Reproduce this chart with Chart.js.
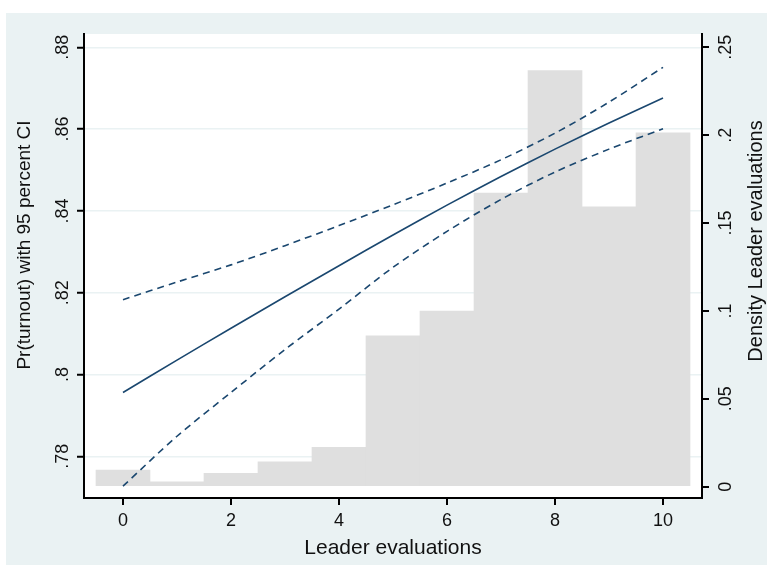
<!DOCTYPE html>
<html>
<head>
<meta charset="utf-8">
<script src="https://cdn.jsdelivr.net/npm/chart.js@4/dist/chart.umd.min.js"></script>
<style>
  html, body { margin: 0; padding: 0; background: #ffffff; }
  canvas { display: block; }
</style>
</head>
<body>
<canvas id="chart" width="767" height="565"></canvas>
<script>
// Leader evaluation scores (x) and histogram density (right axis)
const evalScores = [0, 1, 2, 3, 4, 5, 6, 7, 8, 9, 10];
const density = [0.0095, 0.0028, 0.0076, 0.0142, 0.0224, 0.0859, 0.0999, 0.167, 0.2367, 0.1593, 0.2014];

// Predicted Pr(turnout) and 95% CI (left axis)
const prTurnout = [0.7956, 0.8035, 0.8113, 0.8190, 0.8266, 0.8341, 0.8414, 0.8484, 0.8551, 0.8615, 0.8676];
const ciUpper   = [0.8183, 0.8226, 0.8268, 0.8315, 0.8364, 0.8415, 0.8468, 0.8525, 0.8590, 0.8666, 0.8751];
const ciLower   = [0.7727, 0.7849, 0.7956, 0.8061, 0.8160, 0.8262, 0.8350, 0.8428, 0.8495, 0.8551, 0.8601];

// Axis ticks
const xTicks = [0, 2, 4, 6, 8, 10];
const leftTicks = [0.78, 0.80, 0.82, 0.84, 0.86, 0.88];
const leftTickLabels = ['.78', '.8', '.82', '.84', '.86', '.88'];
const rightTicks = [0, 0.05, 0.10, 0.15, 0.20, 0.25];
const rightTickLabels = ['0', '.05', '.1', '.15', '.2', '.25'];

const NAVY = '#1a476f';
const BG = '#eaf2f3';
const TEXT = '#111111';
const FONT = '"Liberation Sans", Arial, sans-serif';

const points = ys => evalScores.map((x, i) => ({ x: x, y: ys[i] }));

// background panel + white plot region
const backdrop = {
    id: 'backdrop',
    beforeDraw(chart) {
        const { ctx, chartArea: a } = chart;
        ctx.save();
        ctx.fillStyle = '#ffffff';
        ctx.fillRect(0, 0, chart.width, chart.height);
        ctx.fillStyle = BG;
        ctx.fillRect(6, 13, chart.width - 6, chart.height - 13);
        ctx.fillStyle = '#ffffff';
        ctx.fillRect(a.left, a.top, a.right - a.left, a.bottom - a.top);
        ctx.restore();
    }
};

// Stata style labels: rotated y tick labels and axis titles
const labels = {
    id: 'labels',
    afterDraw(chart) {
        const { ctx, scales } = chart;
        const a = chart.chartArea;
        ctx.save();
        ctx.fillStyle = TEXT;
        ctx.textAlign = 'center';
        ctx.textBaseline = 'middle';

        ctx.font = '18px ' + FONT;
        xTicks.forEach(v => ctx.fillText(String(v), scales.x.getPixelForValue(v), 521));

        const rotated = (text, x, y) => {
            ctx.save();
            ctx.translate(x, y);
            ctx.rotate(-Math.PI / 2);
            ctx.fillText(text, 0, 0);
            ctx.restore();
        };
        leftTicks.forEach((v, i) => rotated(leftTickLabels[i], 63, scales.y.getPixelForValue(v)));
        rightTicks.forEach((v, i) => rotated(rightTickLabels[i], 726, scales.y2.getPixelForValue(v)));

        ctx.font = '21px ' + FONT;
        ctx.fillText('Leader evaluations', (a.left + a.right) / 2, 548);
        ctx.font = '19px ' + FONT;
        rotated('Pr(turnout) with 95 percent CI', 25, 245);
        ctx.font = '20px ' + FONT;
        rotated('Density Leader evaluations', 756, 241);
        ctx.restore();
    }
};

new Chart(document.getElementById('chart'), {
    type: 'bar',
    data: {
        datasets: [
            {
                type: 'line',
                data: points(ciUpper),
                yAxisID: 'y',
                borderColor: NAVY,
                borderWidth: 1.6,
                borderDash: [7, 5],
                pointRadius: 0,
                tension: 0.3,
                order: 1
            },
            {
                type: 'line',
                data: points(prTurnout),
                yAxisID: 'y',
                borderColor: NAVY,
                borderWidth: 1.6,
                pointRadius: 0,
                tension: 0.3,
                order: 1
            },
            {
                type: 'line',
                data: points(ciLower),
                yAxisID: 'y',
                borderColor: NAVY,
                borderWidth: 1.6,
                borderDash: [7, 5],
                pointRadius: 0,
                tension: 0.3,
                order: 1
            },
            {
                type: 'bar',
                data: points(density),
                yAxisID: 'y2',
                backgroundColor: '#dfdfdf',
                borderWidth: 0,
                barPercentage: 1,
                categoryPercentage: 1,
                grouped: false,
                order: 2
            }
        ]
    },
    options: {
        responsive: false,
        animation: false,
        events: [],
        layout: { padding: { top: 34, left: 0, right: 0, bottom: 0 } },
        plugins: {
            legend: { display: false },
            tooltip: { enabled: false }
        },
        scales: {
            x: {
                type: 'linear',
                min: -0.722,
                max: 10.722,
                offset: false,
                afterBuildTicks: s => { s.ticks = xTicks.map(v => ({ value: v })); },
                afterFit: s => { s.height = 67; },
                ticks: { display: false },
                grid: { drawOnChartArea: false, offset: false, color: '#000', lineWidth: 2, tickLength: 7 },
                border: { display: true, color: '#000', width: 2 }
            },
            y: {
                position: 'left',
                min: 0.7698,
                max: 0.88325,
                afterBuildTicks: s => { s.ticks = leftTicks.map(v => ({ value: v })); },
                afterFit: s => { s.width = 84; },
                ticks: { display: false },
                grid: { color: BG, lineWidth: 1.5, tickColor: '#000', tickWidth: 2, tickLength: 7 },
                border: { display: true, color: '#000', width: 2 }
            },
            y2: {
                position: 'right',
                min: -0.00643,
                max: 0.25757,
                afterBuildTicks: s => { s.ticks = rightTicks.map(v => ({ value: v })); },
                afterFit: s => { s.width = 65; },
                ticks: { display: false },
                grid: { drawOnChartArea: false, color: '#000', lineWidth: 2, tickLength: 7 },
                border: { display: true, color: '#000', width: 2 }
            }
        }
    },
    plugins: [backdrop, labels]
});
</script>
</body>
</html>
